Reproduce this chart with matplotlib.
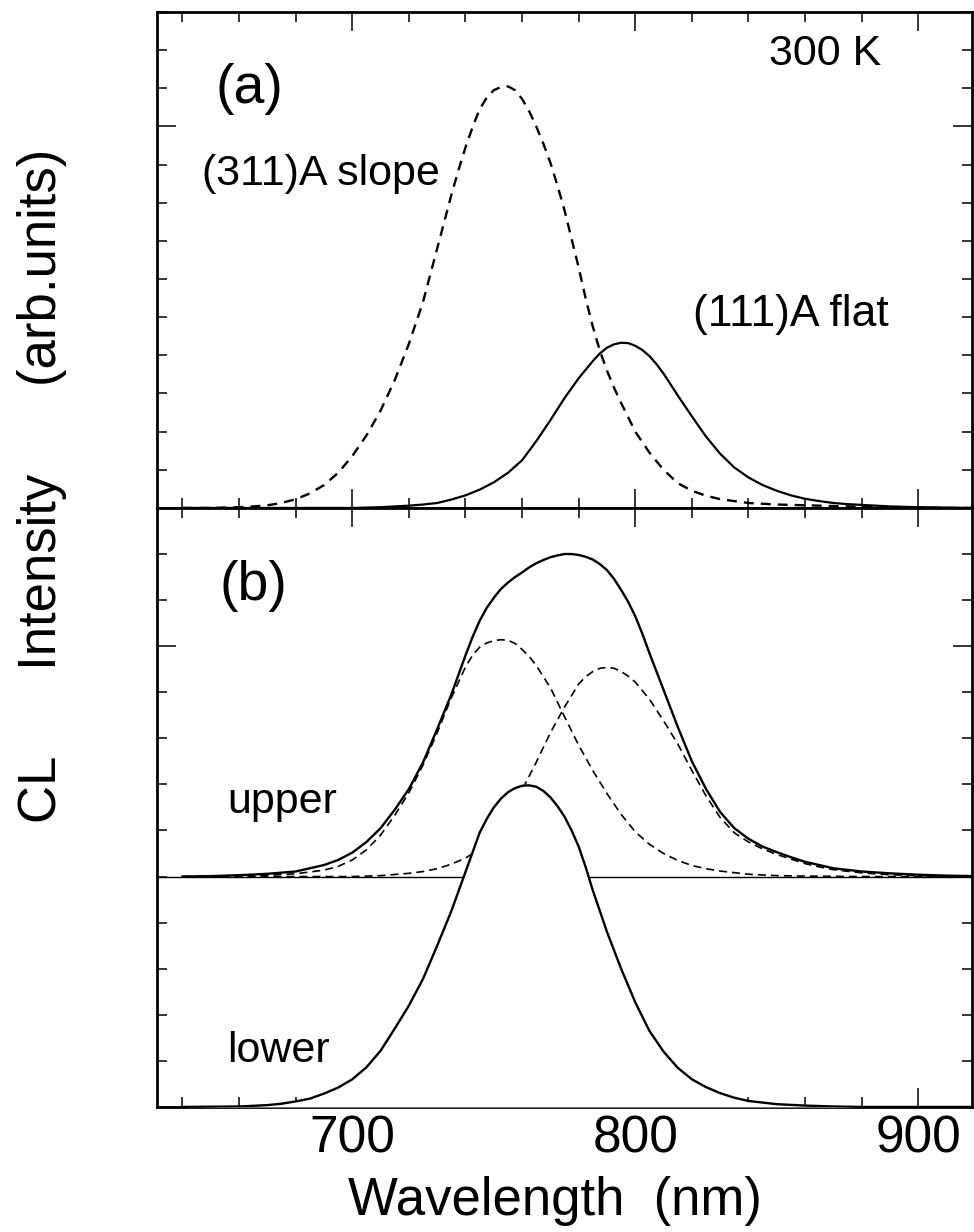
import matplotlib
matplotlib.use("Agg")
import matplotlib.pyplot as plt
from matplotlib.ticker import MultipleLocator, NullFormatter

plt.rcParams["font.family"] = ["Liberation Sans", "DejaVu Sans"]

# (a) espectros de CL a 300 K -- pares (comprimento de onda nm, intensidade)
slope_311 = [(640, 0), (650, 0), (660, 0.02), (665, 0.04), (670, 0.07),
             (675, 0.13), (680, 0.23), (685, 0.38), (690, 0.6), (695, 0.92),
             (700, 1.36), (705, 1.9), (710, 2.55), (715, 3.35), (720, 4.3),
             (725, 5.4), (730, 6.8), (735, 8.2), (737.5, 8.85), (740, 9.45),
             (742.5, 9.98), (745, 10.45), (747.5, 10.75), (750, 10.95),
             (752.5, 11.03), (755, 11.05), (757.5, 10.95), (760, 10.72),
             (762.5, 10.4), (765, 10.0), (767.5, 9.55), (770, 9.05),
             (772.5, 8.45), (775, 7.8), (777.5, 7.05), (780, 6.3),
             (782.5, 5.48), (785, 4.75), (787.5, 4.12), (790, 3.6),
             (792.5, 3.15), (795, 2.75), (800, 2.0), (805, 1.45), (810, 1.0),
             (815, 0.65), (820, 0.45), (825, 0.32), (830, 0.23), (840, 0.13),
             (850, 0.09), (860, 0.07), (870, 0.05), (880, 0.03), (890, 0.02),
             (900, 0.01), (910, 0), (920, 0)]

flat_111 = [(640, 0), (700, 0), (710, 0.02), (715, 0.04), (720, 0.06),
            (725, 0.09), (730, 0.13), (735, 0.22), (740, 0.33), (745, 0.48),
            (750, 0.67), (755, 0.92), (760, 1.25), (765, 1.75), (770, 2.3),
            (775, 2.88), (780, 3.4), (785, 3.85), (787.5, 4.05), (790, 4.2),
            (792.5, 4.29), (795, 4.33), (797.5, 4.32), (800, 4.25),
            (802.5, 4.14), (805, 3.98), (807.5, 3.77), (810, 3.52),
            (815, 2.95), (820, 2.4), (825, 1.87), (830, 1.42), (835, 1.06),
            (840, 0.8), (845, 0.6), (850, 0.45), (855, 0.33), (860, 0.24),
            (865, 0.18), (870, 0.13), (875, 0.1), (880, 0.08), (890, 0.04),
            (900, 0.02), (910, 0.01), (920, 0)]

# (b) "upper" deslocado de +5, com as duas componentes do ajuste
upper_offset = 5.0
upper = [(640, 5.0), (650, 5.01), (660, 5.03), (670, 5.06), (680, 5.11),
         (690, 5.25), (695, 5.36), (700, 5.52), (705, 5.75), (710, 6.05),
         (715, 6.45), (720, 6.9), (725, 7.48), (730, 8.2), (735, 8.95),
         (740, 9.8), (742.5, 10.2), (745, 10.55), (747.5, 10.83),
         (750, 11.05), (752.5, 11.24), (755, 11.38), (757.5, 11.5),
         (760, 11.6), (762.5, 11.71), (765, 11.8), (767.5, 11.87),
         (770, 11.93), (772.5, 11.97), (775, 12.0), (777.5, 12.0),
         (780, 11.98), (782.5, 11.94), (785, 11.88), (787.5, 11.78),
         (790, 11.65), (792.5, 11.46), (795, 11.22), (797.5, 10.96),
         (800, 10.65), (802.5, 10.27), (805, 9.85), (810, 9.05), (815, 8.25),
         (820, 7.5), (825, 6.9), (830, 6.4), (835, 6.05), (840, 5.82),
         (845, 5.65), (850, 5.53), (855, 5.42), (860, 5.32), (865, 5.25),
         (870, 5.18), (880, 5.11), (890, 5.07), (900, 5.04), (910, 5.02),
         (920, 5.01)]

fit1 = [(640, 5.0), (660, 5.01), (670, 5.03), (680, 5.06), (690, 5.14),
        (695, 5.22), (700, 5.36), (705, 5.58), (710, 5.9), (715, 6.33),
        (720, 6.82), (725, 7.42), (730, 8.12), (735, 8.88), (740, 9.55),
        (742.5, 9.8), (745, 9.98), (747.5, 10.07), (750, 10.12),
        (752.5, 10.14), (755, 10.13), (757.5, 10.06), (760, 9.93),
        (762.5, 9.78), (765, 9.58), (770, 9.1), (775, 8.47), (780, 7.85),
        (785, 7.3), (790, 6.8), (795, 6.35), (800, 5.97), (805, 5.7),
        (810, 5.5), (815, 5.35), (820, 5.24), (825, 5.17), (830, 5.12),
        (840, 5.05), (850, 5.02), (860, 5.01), (880, 5.0), (920, 5.0)]

fit2 = [(640, 5.0), (700, 5.0), (710, 5.02), (720, 5.07), (725, 5.11),
        (730, 5.17), (735, 5.27), (740, 5.4), (745, 5.6), (750, 5.9),
        (755, 6.35), (760, 6.88), (765, 7.48), (770, 8.12), (775, 8.68),
        (780, 9.18), (782.5, 9.34), (785, 9.45), (787.5, 9.52), (790, 9.54),
        (792.5, 9.52), (795, 9.45), (797.5, 9.35), (800, 9.22), (805, 8.85),
        (810, 8.38), (815, 7.88), (820, 7.3), (825, 6.75), (830, 6.28),
        (835, 5.95), (840, 5.75), (845, 5.6), (850, 5.48), (855, 5.38),
        (860, 5.28), (865, 5.21), (870, 5.15), (880, 5.08), (890, 5.04),
        (900, 5.02), (920, 5.0)]

lower = [(640, 0), (660, 0.01), (670, 0.04), (675, 0.07), (680, 0.12),
         (685, 0.18), (690, 0.29), (695, 0.42), (700, 0.6), (705, 0.86),
         (710, 1.22), (715, 1.7), (720, 2.2), (725, 2.78), (730, 3.5),
         (735, 4.25), (740, 5.1), (745, 5.95), (747.5, 6.25), (750, 6.5),
         (752.5, 6.69), (755, 6.83), (757.5, 6.92), (760, 6.97),
         (762.5, 6.98), (765, 6.95), (767.5, 6.86), (770, 6.72),
         (772.5, 6.53), (775, 6.3), (777.5, 6.0), (780, 5.65), (782.5, 5.2),
         (785, 4.7), (790, 3.8), (795, 3.0), (800, 2.27), (805, 1.65),
         (810, 1.2), (815, 0.85), (820, 0.6), (825, 0.43), (830, 0.3),
         (835, 0.2), (840, 0.13), (850, 0.06), (860, 0.03), (870, 0.01),
         (880, 0), (920, 0)]

x_ticks = [700, 800, 900]


def xy(pairs):
    """Separa a lista de pares em (x, y)."""
    xs, ys = zip(*pairs)
    return list(xs), list(ys)


def style_axes(ax):
    """Moldura grossa, ticks para dentro nos quatro lados."""
    for sp in ax.spines.values():
        sp.set_linewidth(2.0)
    ax.set_xlim(631, 919)
    ax.set_ylim(0, 13)
    ax.xaxis.set_major_locator(MultipleLocator(100))
    ax.xaxis.set_minor_locator(MultipleLocator(20))
    ax.yaxis.set_major_locator(MultipleLocator(10))
    ax.yaxis.set_minor_locator(MultipleLocator(1))
    ax.tick_params(which="both", direction="in", top=True, right=True,
                   width=1.1, labelleft=False)
    ax.tick_params(which="major", length=14)
    ax.tick_params(which="minor", length=7)


line_kw = dict(color="black", solid_joinstyle="round",
               dash_joinstyle="round", dash_capstyle="butt")

fig = plt.figure(figsize=(9.74, 12.32), dpi=100)
ax_a = fig.add_axes([0.1612, 0.5877, 0.8368, 0.4026])
ax_b = fig.add_axes([0.1612, 0.1015, 0.8368, 0.4862])

# Painel (a)
style_axes(ax_a)
ax_a.tick_params(labelbottom=False)
ax_a.plot(*xy(slope_311), lw=1.7, dashes=(4.2, 3), **line_kw)
ax_a.plot(*xy(flat_111), lw=1.6, **line_kw)
ax_a.text(675.5, 10.62, "(a)", fontsize=40, ha="right", va="baseline")
ax_a.text(887, 11.6, "300 K", fontsize=31, ha="right", va="baseline")
ax_a.text(731, 8.47, "(311)A slope", fontsize=31, ha="right", va="baseline")
ax_a.text(820.4, 4.77, "(111)A flat", fontsize=32, ha="left", va="baseline")

# Painel (b)
style_axes(ax_b)
ax_b.axhline(upper_offset, color="black", lw=1.0, zorder=1)
ax_b.plot(*xy(fit1), lw=1.2, dashes=(4.8, 3), zorder=2, **line_kw)
ax_b.plot(*xy(fit2), lw=1.2, dashes=(4.8, 3), zorder=2, **line_kw)
ax_b.plot(*xy(upper), lw=1.7, zorder=2, **line_kw)
# o pico "lower" tapa a linha de base e os ajustes por baixo dele
lx, ly = xy(lower)
ax_b.fill_between(lx, 0, ly, color="white", lw=0, zorder=3)
ax_b.plot(lx, ly, lw=1.7, zorder=4, **line_kw)
ax_b.set_xticks(x_ticks)
ax_b.set_xticklabels([str(t) for t in x_ticks])
ax_b.xaxis.set_minor_formatter(NullFormatter())
ax_b.tick_params(axis="x", which="major", labelsize=37, pad=5.5)
ax_b.text(677, 11.0, "(b)", fontsize=40, ha="right", va="baseline")
ax_b.text(694.6, 6.38, "upper", fontsize=31, ha="right", va="baseline")
ax_b.text(692.1, 0.98, "lower", fontsize=31, ha="right", va="baseline")

fig.text(0.570, 0.0138, "Wavelength  (nm)", fontsize=38, ha="center",
         va="baseline")
fig.text(0.0436, 0.606, "CL      Intensity      (arb.units)", fontsize=38,
         rotation=90, ha="center", va="center")

fig.savefig("out.png", dpi=100)
plt.close()
